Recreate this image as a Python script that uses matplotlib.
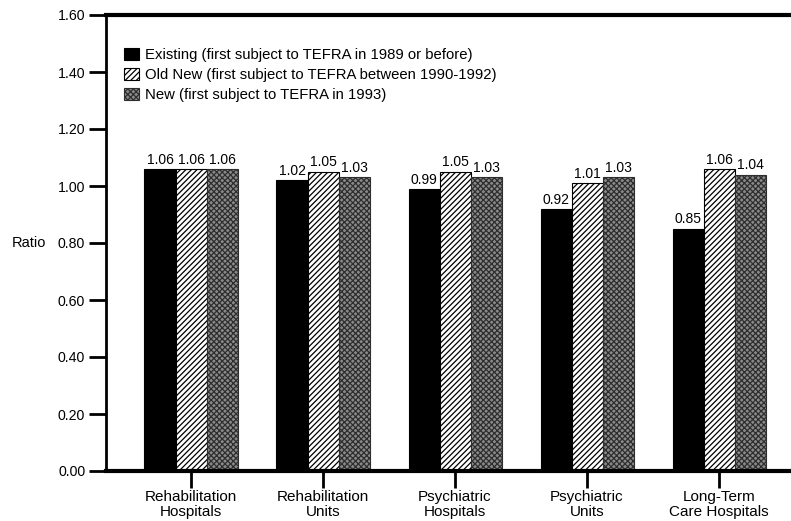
import matplotlib
matplotlib.use("Agg")
import matplotlib.pyplot as plt
import numpy as np

plt.rcParams['font.family'] = ['Liberation Sans', 'DejaVu Sans']
plt.rcParams['hatch.linewidth'] = 0.9

categories = ["Rehabilitation\nHospitals", "Rehabilitation\nUnits", "Psychiatric\nHospitals",
              "Psychiatric\nUnits", "Long-Term\nCare Hospitals"]
series_names = ["Existing (first subject to TEFRA in 1989 or before)",
                "Old New (first subject to TEFRA between 1990-1992)",
                "New (first subject to TEFRA in 1993)"]
existing = [1.06, 1.02, 0.99, 0.92, 0.85]
old_new = [1.06, 1.05, 1.05, 1.01, 1.06]
new = [1.06, 1.03, 1.03, 1.03, 1.04]
yticks = [0.0, 0.2, 0.4, 0.6, 0.8, 1.0, 1.2, 1.4, 1.6]

W, H = 791, 521
fig = plt.figure(figsize=(W / 100, H / 100), dpi=100)
left, right, top, bottom = 106, 791, 15, 471
ax = fig.add_axes([left / W, 1 - bottom / H, (right - left) / W, (bottom - top) / H])

x = np.arange(len(categories))
bw = 0.235
styles = [
    dict(facecolor='black', edgecolor='black', hatch=None),
    dict(facecolor='white', edgecolor='black', hatch='//////'),
    dict(facecolor='#8a8a8a', edgecolor='#2e2e2e', hatch='xxxxxx'),
]
for i, (vals, st, name) in enumerate(zip([existing, old_new, new], styles, series_names)):
    bars = ax.bar(x + (i - 1) * bw, vals, bw, label=name, linewidth=0.8, **st)
    for b, v in zip(bars, vals):
        ax.text(b.get_x() + b.get_width() / 2, v + 0.008, f"{v:.2f}", ha='center', va='bottom',
                fontsize=10)

ax.set_ylim(0, 1.6)
ax.set_xlim(-0.644, 4.545)
ax.set_yticks(yticks)
ax.set_yticklabels([f"{t:.2f}" for t in yticks], fontsize=10.2)
ax.set_xticks(x)
ax.set_xticklabels(categories, fontsize=11, linespacing=1.05)
ax.tick_params(axis='y', direction='out', length=12, width=2, pad=3)
ax.tick_params(axis='x', direction='out', length=12, width=2, pad=2)

ax.spines['right'].set_visible(False)
ax.spines['left'].set_linewidth(2)
ax.spines['top'].set_linewidth(3)
ax.spines['bottom'].set_linewidth(3)

ax.set_ylabel("Ratio", rotation=0, fontsize=10.5, ha='left', va='center')
ax.yaxis.set_label_coords(-(left - 12) / (right - left), 0.5)

leg = ax.legend(loc='upper left', bbox_to_anchor=(0.0175, 0.94), frameon=False, fontsize=10.75,
                handlelength=1.0, handleheight=0.8, handletextpad=0.4, labelspacing=0.4,
                borderaxespad=0)

fig.savefig("out.png", dpi=100)
